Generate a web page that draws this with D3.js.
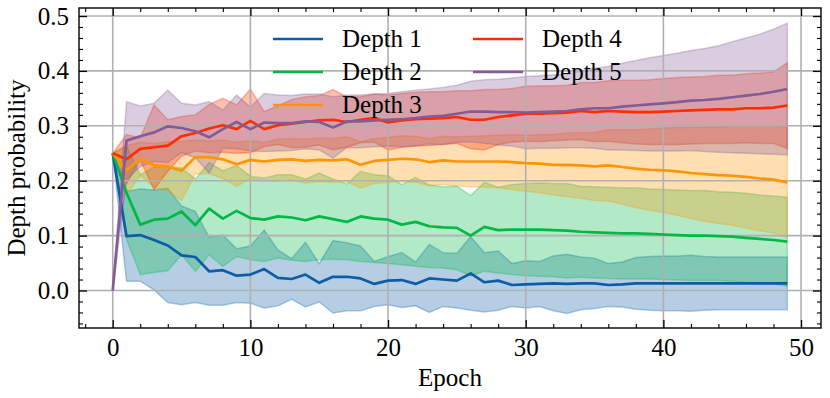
<!DOCTYPE html>
<html>
<head>
<meta charset="utf-8">
<script src="https://cdn.jsdelivr.net/npm/d3@7"></script>
<style>
  body { margin: 0; background: #fff; }
  text { font-family: "Liberation Serif", serif; fill: #000; }
</style>
</head>
<body>
<script>
// values: mean and spread per epoch
var epochs = [0,1,2,3,4,5,6,7,8,9,10,11,12,13,14,15,16,17,18,19,20,21,22,23,24,
              25,26,27,28,29,30,31,32,33,34,35,36,37,38,39,40,41,42,43,44,45,46,47,48,49];

var depth1Mean = [0.250,0.099,0.101,0.092,0.082,0.064,0.061,0.035,0.037,0.027,0.029,0.039,0.023,0.021,0.029,0.014,0.025,0.025,0.022,0.012,0.018,0.019,0.012,0.022,0.020,
                  0.018,0.031,0.015,0.018,0.010,0.011,0.012,0.013,0.012,0.013,0.013,0.010,0.011,0.013,0.013,0.013,0.013,0.013,0.013,0.013,0.013,0.013,0.013,0.013,0.013];
var depth1Std  = [0,0.082,0.084,0.091,0.104,0.090,0.083,0.062,0.064,0.049,0.052,0.071,0.051,0.037,0.059,0.035,0.066,0.062,0.059,0.041,0.044,0.050,0.040,0.062,0.049,
                  0.050,0.067,0.054,0.054,0.039,0.043,0.041,0.050,0.054,0.048,0.046,0.039,0.041,0.047,0.049,0.050,0.050,0.051,0.049,0.048,0.048,0.048,0.048,0.048,0.048];

var depth2Mean = [0.250,0.178,0.120,0.129,0.131,0.144,0.119,0.149,0.131,0.145,0.132,0.129,0.135,0.133,0.128,0.135,0.130,0.125,0.135,0.131,0.129,0.120,0.125,0.117,0.115,
                  0.114,0.100,0.116,0.110,0.111,0.111,0.111,0.110,0.109,0.107,0.106,0.105,0.104,0.104,0.103,0.102,0.101,0.100,0.100,0.099,0.098,0.096,0.094,0.092,0.089];
var depth2Std  = [0,0.085,0.091,0.096,0.095,0.079,0.084,0.084,0.087,0.083,0.076,0.076,0.076,0.078,0.075,0.079,0.073,0.069,0.082,0.080,0.080,0.073,0.081,0.075,0.074,
                  0.076,0.073,0.081,0.078,0.082,0.084,0.085,0.085,0.086,0.083,0.083,0.083,0.083,0.083,0.082,0.082,0.082,0.082,0.082,0.081,0.081,0.081,0.080,0.080,0.081];

var depth3Mean = [0.250,0.219,0.240,0.228,0.226,0.218,0.243,0.243,0.239,0.230,0.238,0.235,0.238,0.239,0.236,0.238,0.237,0.239,0.229,0.236,0.238,0.240,0.239,0.234,0.237,
                  0.235,0.235,0.235,0.235,0.234,0.232,0.231,0.229,0.229,0.228,0.226,0.228,0.225,0.222,0.220,0.219,0.217,0.214,0.212,0.210,0.209,0.207,0.204,0.202,0.197];
var depth3Std  = [0,0.045,0.030,0.040,0.045,0.054,0.031,0.030,0.035,0.040,0.035,0.035,0.038,0.038,0.040,0.040,0.040,0.041,0.042,0.041,0.041,0.042,0.042,0.043,0.044,
                  0.045,0.046,0.047,0.048,0.050,0.051,0.053,0.055,0.058,0.060,0.062,0.065,0.068,0.071,0.074,0.077,0.080,0.083,0.086,0.088,0.090,0.093,0.095,0.097,0.101];

var depth4Mean = [0.250,0.239,0.258,0.261,0.264,0.281,0.287,0.295,0.301,0.294,0.309,0.294,0.301,0.304,0.307,0.310,0.311,0.307,0.311,0.314,0.306,0.310,0.312,0.313,0.314,
                  0.316,0.311,0.311,0.316,0.319,0.322,0.322,0.323,0.324,0.327,0.325,0.327,0.326,0.325,0.325,0.326,0.327,0.328,0.329,0.330,0.330,0.332,0.332,0.333,0.337];
var depth4Std  = [0,0.045,0.020,0.077,0.047,0.036,0.033,0.044,0.049,0.044,0.058,0.032,0.035,0.044,0.046,0.045,0.055,0.046,0.042,0.044,0.050,0.049,0.049,0.049,0.048,
                  0.048,0.053,0.055,0.050,0.049,0.050,0.051,0.050,0.050,0.052,0.054,0.055,0.057,0.058,0.059,0.060,0.061,0.061,0.061,0.062,0.062,0.063,0.064,0.065,0.078];

var depth5Mean = [0.000,0.273,0.281,0.288,0.299,0.296,0.290,0.279,0.294,0.307,0.294,0.306,0.305,0.305,0.308,0.307,0.297,0.308,0.308,0.310,0.311,0.312,0.314,0.317,0.318,
                  0.322,0.326,0.326,0.325,0.325,0.324,0.325,0.326,0.327,0.330,0.332,0.332,0.335,0.337,0.339,0.341,0.343,0.346,0.347,0.349,0.352,0.355,0.358,0.362,0.367];
var depth5Std  = [0,0.071,0.055,0.053,0.066,0.045,0.048,0.065,0.035,0.049,0.040,0.053,0.051,0.050,0.050,0.051,0.056,0.048,0.048,0.048,0.048,0.050,0.051,0.050,0.052,
                  0.052,0.055,0.058,0.060,0.062,0.066,0.066,0.067,0.067,0.070,0.073,0.076,0.079,0.082,0.085,0.087,0.089,0.091,0.094,0.097,0.101,0.105,0.109,0.114,0.120];

var seriesNames = ["Depth 1", "Depth 2", "Depth 3", "Depth 4", "Depth 5"];
var seriesColors = ["#0C5DA5", "#00B945", "#FF9500", "#FF2C00", "#845B97"];
var xTicks = [0, 10, 20, 30, 40, 50];
var xMinorTicks = [-2, 2, 4, 6, 8, 12, 14, 16, 18, 22, 24, 26, 28, 32, 34, 36, 38, 42, 44, 46, 48];
var yTicks = [0.0, 0.1, 0.2, 0.3, 0.4, 0.5];
var yMinorTicks = [-0.06, -0.04, -0.02, 0.02, 0.04, 0.06, 0.08, 0.12, 0.14, 0.16, 0.18, 0.22, 0.24, 0.26, 0.28,
                   0.32, 0.34, 0.36, 0.38, 0.42, 0.44, 0.46, 0.48];

var means = [depth1Mean, depth2Mean, depth3Mean, depth4Mean, depth5Mean];
var stds = [depth1Std, depth2Std, depth3Std, depth4Std, depth5Std];

var width = 830,
    height = 398;

var plotL = 79, plotR = 821, plotT = 8, plotB = 328;
var fontSize = "25px";

var svg = d3.select("body")
            .append("svg")
            .attr("width", width)
            .attr("height", height);

var x = d3.scaleLinear()
          .domain([-2.45, 51.45])
          .range([plotL, plotR]);

var y = d3.scaleLinear()
          .domain([-0.0683, 0.5146])
          .range([plotB, plotT]);

var series = seriesNames.map(function(name, k) {
    return {
        name: name,
        color: seriesColors[k],
        points: epochs.map(function(e, i) {
            return {e: e, m: means[k][i], s: stds[k][i]};
        })
    };
});

// bands first (fills sit below grid and lines)
var band = d3.area()
             .x(d => x(d.e))
             .y0(d => y(d.m - d.s))
             .y1(d => y(d.m + d.s));

svg.append("g")
   .selectAll("path")
   .data(series)
   .enter()
   .append("path")
      .attr("d", d => band(d.points))
      .attr("fill", d => d.color)
      .attr("fill-opacity", 0.3)
      .attr("stroke", d => d.color)
      .attr("stroke-opacity", 0.3)
      .attr("stroke-width", 1.5);

// grid
var grid = svg.append("g")
              .attr("stroke", "#b0b0b0")
              .attr("stroke-width", 1.6);

grid.selectAll(".gx")
    .data(xTicks)
    .enter()
    .append("line")
       .attr("x1", d => x(d))
       .attr("x2", d => x(d))
       .attr("y1", plotT)
       .attr("y2", plotB);

grid.selectAll(".gy")
    .data(yTicks)
    .enter()
    .append("line")
       .attr("x1", plotL)
       .attr("x2", plotR)
       .attr("y1", d => y(d))
       .attr("y2", d => y(d));

// mean lines
var line = d3.line()
             .x(d => x(d.e))
             .y(d => y(d.m));

svg.append("g")
   .selectAll("path")
   .data(series)
   .enter()
   .append("path")
      .attr("d", d => line(d.points))
      .attr("fill", "none")
      .attr("stroke", d => d.color)
      .attr("stroke-width", 2.7)
      .attr("stroke-linejoin", "round");

// axes, ticks pointing inward on all four sides
function drawAxis(axisFn, scale, major, minor, tx, ty, labels) {
    var fmt = labels ? (axisFn === d3.axisLeft ? d3.format(".1f") : d3.format("d")) : "";
    var g = svg.append("g")
               .attr("transform", "translate(" + tx + "," + ty + ")")
               .call(axisFn(scale).tickValues(major).tickSize(-8).tickPadding(10).tickFormat(fmt));
    var gm = svg.append("g")
                .attr("transform", "translate(" + tx + "," + ty + ")")
                .call(axisFn(scale).tickValues(minor).tickSize(-4).tickFormat(""));
    g.select(".domain").remove();
    gm.select(".domain").remove();
    g.selectAll(".tick line").attr("stroke-width", 1.3);
    gm.selectAll(".tick line").attr("stroke-width", 1.1);
    g.selectAll("text")
     .attr("font-family", "Liberation Serif, serif")
     .attr("font-size", fontSize);
}

drawAxis(d3.axisBottom, x, xTicks, xMinorTicks, 0, plotB, true);
drawAxis(d3.axisTop, x, xTicks, xMinorTicks, 0, plotT, false);
drawAxis(d3.axisLeft, y, yTicks, yMinorTicks, plotL, 0, true);
drawAxis(d3.axisRight, y, yTicks, yMinorTicks, plotR, 0, false);

svg.append("rect")
   .attr("x", plotL)
   .attr("y", plotT)
   .attr("width", plotR - plotL)
   .attr("height", plotB - plotT)
   .attr("fill", "none")
   .attr("stroke", "#000")
   .attr("stroke-width", 1.4);

// axis titles
svg.append("text")
   .attr("x", (plotL + plotR) / 2)
   .attr("y", 386)
   .attr("text-anchor", "middle")
   .style("font-size", fontSize)
   .text("Epoch");

svg.append("text")
   .attr("transform", "translate(25," + (plotT + plotB) / 2 + ") rotate(-90)")
   .attr("text-anchor", "middle")
   .style("font-size", fontSize)
   .text("Depth probability");

// legend, two columns, no frame
var legend = svg.append("g")
                .selectAll("g")
                .data(series)
                .enter()
                .append("g")
                   .attr("transform", function(d, i) {
                       var col = i < 3 ? 0 : 1;
                       var row = i < 3 ? i : i - 3;
                       return "translate(" + (273 + col * 200) + "," + (39 + row * 33) + ")";
                   });

legend.append("line")
      .attr("x1", 0)
      .attr("x2", 50)
      .attr("stroke", d => d.color)
      .attr("stroke-width", 2.7);

legend.append("text")
      .attr("x", 69)
      .attr("y", 8)
      .style("font-size", fontSize)
      .text(d => d.name);
</script>
</body>
</html>
